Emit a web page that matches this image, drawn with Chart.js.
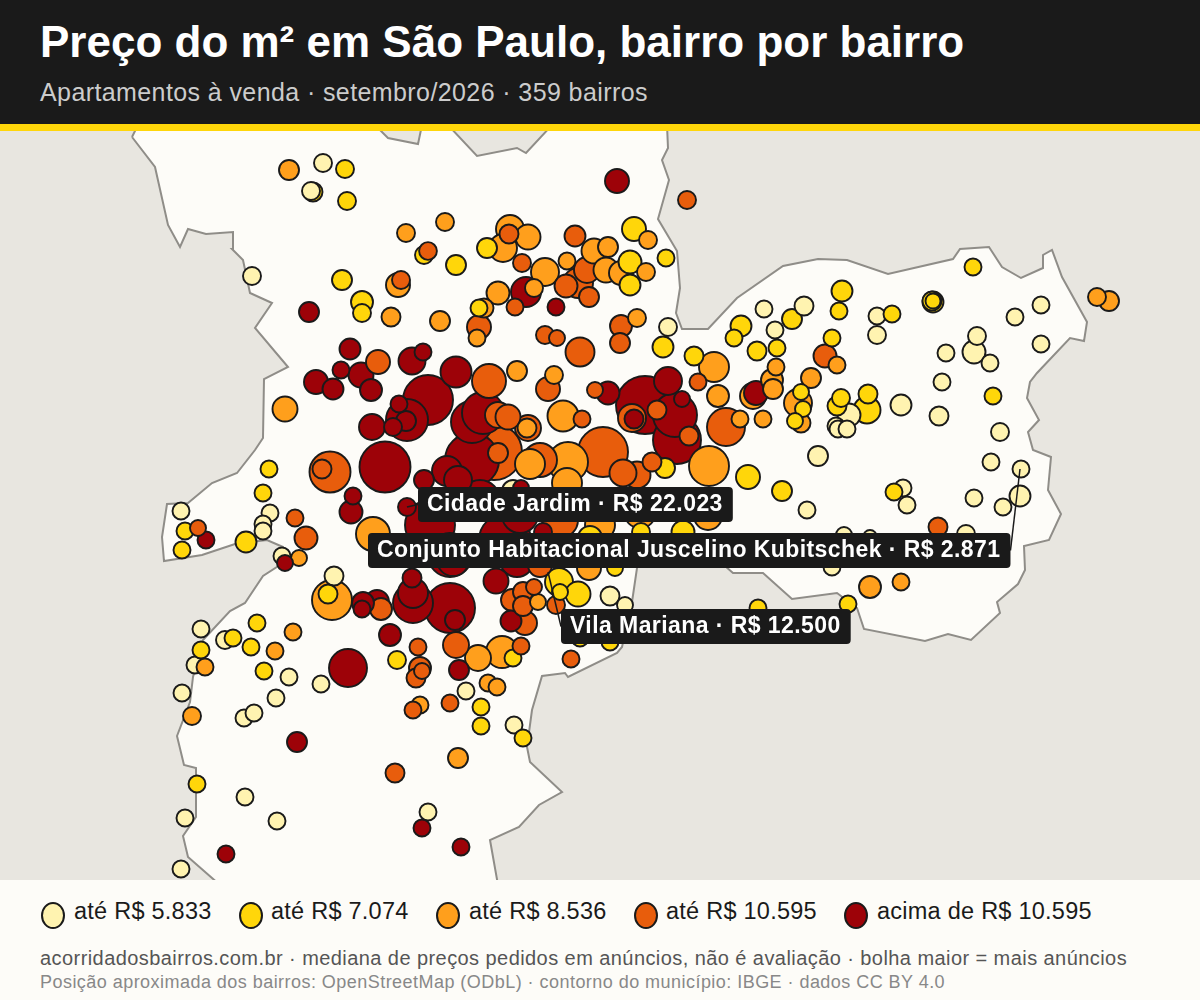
<!DOCTYPE html>
<html lang="pt-BR">
<head>
<meta charset="UTF-8">
<title>Preço do m² em São Paulo</title>
<script src="https://cdn.jsdelivr.net/npm/chart.js@4/dist/chart.umd.min.js"></script>
<style>
    html,body{margin:0;padding:0;background:#fdfcf8;font-family:"Liberation Sans",Arial,sans-serif;}
    #page{position:relative;width:1200px;height:1000px;overflow:hidden;}
    #top{position:absolute;left:0;top:0;width:1200px;height:124px;background:#1a1a1a;border-bottom:7px solid #ffd60a;}
    #title{position:absolute;left:40px;top:17px;font-size:44px;font-weight:bold;color:#fff;white-space:nowrap;}
    #sub{position:absolute;left:40px;top:78px;font-size:25px;letter-spacing:0.4px;color:#cccccc;white-space:nowrap;}
    #board{position:absolute;left:0;top:131px;width:1200px;height:749px;background:#e8e6e0;}
    #legend span{position:absolute;white-space:nowrap;}
    .dot{width:24px;height:27px;border:2px solid #1a1a1a;border-radius:50%;box-sizing:border-box;top:902px;}
    .lab{font-size:23.5px;letter-spacing:0.25px;color:#1a1a1a;top:898px;}
    #note1{position:absolute;left:40px;top:947px;font-size:20px;letter-spacing:0.43px;color:#555;white-space:nowrap;}
    #note2{position:absolute;left:40px;top:972px;font-size:18px;letter-spacing:0.46px;color:#888;white-space:nowrap;}
</style>
</head>
<body>
<div id="page">
    <div id="top">
        <div id="title">Preço do m² em São Paulo, bairro por bairro</div>
        <div id="sub">Apartamentos à venda · setembro/2026 · 359 bairros</div>
    </div>
    <div id="board"><canvas id="chart1" width="1200" height="749"></canvas></div>
    <div id="legend"></div>
    <div id="note1">acorridadosbairros.com.br · mediana de preços pedidos em anúncios, não é avaliação · bolha maior = mais anúncios</div>
    <div id="note2">Posição aproximada dos bairros: OpenStreetMap (ODbL) · contorno do município: IBGE · dados CC BY 4.0</div>
</div>
<script>
// faixas de preco
const faixaLabels = ['até R$ 5.833','até R$ 7.074','até R$ 8.536','até R$ 10.595','acima de R$ 10.595'];
const faixaColors = ['#fff3b0','#ffd60a','#ff9f1c','#e85d0c','#9d0208'];

// contorno do municipio (x, y no mapa)
const contornoX = [132,138,375,388,418,422,448,477,517,526,552,667,668,662,669,658,677,680,676,682,708,737,783,818,847,888,953,960,989,1002,1021,1043,1043,1052,1062,1087,1084,1070,1037,1030,1027,1039,1028,1033,1051,1048,1061,1049,1024,1025,1018,997,1000,971,948,925,864,857,837,792,763,733,725,690,640,637,632,622,617,568,565,542,532,527,530,562,539,519,490,498,220,188,183,196,196,184,177,190,193,203,230,245,263,283,283,267,235,202,164,162,167,188,212,237,255,263,264,288,255,272,250,243,232,233,206,188,180,168,155,132];
const contornoY = [137,125,125,138,144,125,125,156,148,153,125,125,148,160,180,219,251,288,313,329,329,298,266,259,260,274,259,249,247,267,278,268,255,250,277,322,341,338,373,382,398,420,432,450,457,490,514,540,546,570,584,602,613,640,634,641,629,608,593,599,573,573,566,565,560,568,602,647,653,677,673,676,710,747,762,792,805,827,840,885,885,857,836,817,768,765,736,702,677,640,611,603,576,563,547,540,544,555,561,537,504,503,483,473,450,438,379,367,328,303,293,260,249,232,234,229,247,225,167,137];

// bolhas [x, y, raio] de cada faixa
const faixa1 = [[323,163,9],[311,191,9],[252,276,9],[668,327,9],[764,309,8.5],[804,306,9.5],[775,330,8.5],[877,316,8.5],[877,335,9],[1015,317,8.5],[1041,305,8.5],[1041,344,8.5],[977,336,9],[974,352,11.5],[990,363,8.5],[946,353,8.5],[942,382,8.5],[901,405,10.5],[939,416,9.5],[1000,432,9],[849,415,11.5],[836,426,8.5],[838,429,8.5],[847,429,8.5],[818,456,10],[807,510,8.5],[991,462,8.5],[1021,469,8.5],[1020,496,10.5],[974,498,8.5],[1003,507,8.5],[903,488,8.5],[907,505,8.5],[844,535,8],[870,537,7],[966,534,9],[832,567,8.5],[610,596,9.5],[625,605,8],[181,511,8.5],[270,513,8.5],[263,524,8.5],[263,531,8.5],[282,556,8.5],[334,576,9.5],[201,629,8.5],[225,640,9],[195,665,8.5],[182,693,8.5],[289,677,8.5],[321,684,8.5],[276,698,8.5],[244,718,8.5],[254,713,8.5],[245,797,8.5],[185,818,8.5],[277,821,8.5],[181,869,8.5],[428,812,8.5],[514,725,8.5],[466,691,8.5],[513,491,11]];
const faixa2 = [[345,169,9],[313,192,9.5],[347,201,9],[424,255,9],[456,265,10],[342,280,10],[362,302,11],[362,313,9],[487,248,10],[479,308,8.5],[634,229,12],[630,262,11.5],[630,285,10.5],[666,258,8.5],[663,347,10.5],[741,326,10.5],[734,338,8.5],[792,319,10],[842,291,10.5],[839,311,8.5],[832,338,8.5],[757,351,9.5],[777,348,8.5],[694,356,9.5],[973,267,8.5],[892,314,8.5],[933,302,10.5],[932,301,9.5],[933,301,7.5],[993,396,8.5],[867,410,13.5],[868,394,9.5],[837,406,9.5],[841,398,9],[801,392,8],[803,409,8],[795,421,8],[748,477,12],[782,491,10],[665,468,10],[894,492,8.5],[641,532,9],[683,532,11.5],[590,538,12],[559,582,14],[560,592,8],[578,594,12.5],[615,568,8],[580,638,8.5],[610,642,8.5],[758,608,8.5],[848,604,8.5],[513,658,8.5],[397,660,9],[269,469,8.5],[263,493,8.5],[185,531,8.5],[182,550,8.5],[246,542,10.5],[328,594,9.5],[233,638,8.5],[257,623,8.5],[251,647,8.5],[201,650,8.5],[264,671,8.5],[197,784,8.5],[481,707,8.5],[481,726,8.5],[523,738,8.5]];
const faixa3 = [[289,170,10],[406,233,9],[445,222,9],[398,285,12],[391,317,9.5],[440,321,10],[510,229,14],[503,248,14],[528,237,12.5],[484,308,9.5],[545,272,14],[567,261,8.5],[594,251,12.5],[608,247,10],[606,270,12.5],[621,273,12],[646,272,9],[648,240,9],[498,293,11.5],[534,288,9],[477,338,8.5],[637,318,9],[1109,301,10],[1097,297,9],[837,365,8.5],[811,378,10],[776,367,8.5],[772,380,11],[773,389,10],[753,396,13],[714,367,15],[718,396,11],[740,419,8.5],[763,419,8.5],[798,403,14],[801,423,9.5],[709,466,20],[517,371,10],[554,375,9],[568,462,20],[530,464,15],[567,483,15],[563,416,15.5],[527,428,9.5],[285,409,12.5],[373,534,17],[332,600,20],[299,558,8],[293,632,8.5],[275,651,8.5],[205,667,8.5],[192,716,9],[538,602,8],[478,658,13],[502,652,16],[708,516,14],[640,512,16],[589,568,12],[600,525,15],[870,587,11],[901,582,8.5],[458,758,10],[488,683,8.5],[497,687,8.5],[420,705,8.5]];
const faixa4 = [[428,251,8.9],[401,280,9],[509,234,9.5],[522,263,9],[575,236,10.5],[587,270,13],[578,283,15],[566,286,11.5],[589,297,10],[515,307,8.5],[479,327,12],[545,335,9],[557,338,8],[621,326,11],[620,343,10],[580,352,14.5],[687,200,9],[825,356,11.5],[698,382,8.5],[726,427,19],[689,436,9.5],[657,410,9.5],[652,462,9.5],[637,475,13.5],[623,473,13.5],[603,452,25],[540,460,17],[548,389,12],[595,390,8],[632,418,14],[582,419,8.5],[528,428,13],[508,417,12.5],[498,415,13],[494,452,28],[498,453,10],[489,381,17],[330,472,20.5],[322,469,9.5],[295,518,8.5],[306,538,11.5],[198,528,8],[381,609,11],[378,362,12],[512,600,11],[523,592,10],[534,587,8],[556,605,9],[523,606,10],[525,623,12],[456,645,13],[521,646,8.5],[418,647,8.5],[420,668,11],[422,671,8],[416,678,9.5],[571,659,8.5],[450,703,8.5],[413,710,8.5],[395,773,9.5],[938,527,9.5],[540,565,12],[560,520,18]];
const faixa5 = [[617,181,12],[309,312,10],[526,292,15],[556,307,8.5],[350,349,10.5],[341,370,8.5],[316,382,12],[333,389,10.5],[361,375,12.5],[371,390,11],[412,361,13.5],[423,352,8.5],[456,372,15.5],[608,393,11.5],[645,405,29],[668,381,14],[682,399,8],[634,419,9.5],[675,415,22],[677,440,24],[756,393,12],[472,422,21],[483,413,21],[472,460,27],[385,467,25.5],[428,400,25],[407,420,21],[406,421,10],[399,404,8.5],[393,427,9],[372,427,13],[447,471,15],[458,480,14],[424,480,10],[407,507,9],[430,525,25],[505,540,26],[450,555,22],[480,500,20],[520,515,18],[521,488,8],[543,532,9],[453,560,16],[517,560,17],[496,581,12.5],[450,608,25],[455,620,10],[412,578,9.5],[413,593,15],[413,603,20],[377,602,12],[363,603,11],[362,609,8.5],[353,496,8.5],[351,512,11.5],[206,540,8.5],[285,563,8],[511,621,10.5],[390,635,11],[459,670,10],[348,668,19],[297,742,10],[226,854,8.5],[422,828,8.5],[461,847,8.5]];

// bairros em destaque
const destaqueNomes = ['Cidade Jardim','Conjunto Habitacional Juscelino Kubitschek','Vila Mariana'];
const destaqueValores = ['R$ 22.023','R$ 2.871','R$ 12.500'];
const destaqueX = [407,1020,548];
const destaqueY = [507,469,572];
const caixaX = [418,368,561];
const caixaY = [487,533,609];

// legenda
const legendDotX = [41,239,436,634,844];
const legendLabX = [74,271,469,666,877];
const legend = document.getElementById('legend');
faixaLabels.forEach(function(t,i){
    legend.insertAdjacentHTML('beforeend',
        '<span class="dot" style="left:'+legendDotX[i]+'px;background:'+faixaColors[i]+'"></span>'+
        '<span class="lab" style="left:'+legendLabX[i]+'px">'+t+'</span>');
});

// junta tudo e desenha as maiores primeiro
let bolhas = [];
[faixa1,faixa2,faixa3,faixa4,faixa5].forEach(function(lista,i){
    lista.forEach(function(b){ bolhas.push({x:b[0],y:b[1],r:b[2],cor:faixaColors[i]}); });
});
bolhas.sort(function(a,b){ return b.r-a.r; });

// caixas pretas com o nome do bairro
const destaquePlugin = {
    id:'destaque',
    afterDatasetsDraw(chart){
        const ctx = chart.ctx, sx = chart.scales.x, sy = chart.scales.y;
        ctx.save();
        ctx.font = 'bold 23px "Liberation Sans"';
        ctx.letterSpacing = '0.43px';
        destaqueNomes.forEach(function(nome,i){
            const texto = nome+' · '+destaqueValores[i];
            const w = ctx.measureText(texto).width+19, h = 35;
            const bx = sx.getPixelForValue(caixaX[i]), by = sy.getPixelForValue(caixaY[i]);
            const px = sx.getPixelForValue(destaqueX[i]), py = sy.getPixelForValue(destaqueY[i]);
            ctx.strokeStyle = '#1a1a1a';
            ctx.lineWidth = 1.5;
            ctx.beginPath();
            ctx.moveTo(px,py);
            ctx.lineTo(Math.max(bx,Math.min(bx+w,px)),by+h/2);
            ctx.stroke();
            ctx.fillStyle = '#1a1a1a';
            ctx.beginPath();
            ctx.roundRect(bx,by,w,h,4);
            ctx.fill();
            ctx.fillStyle = '#fff';
            ctx.textBaseline = 'middle';
            ctx.fillText(texto,bx+9,by+h/2);
        });
        ctx.restore();
    }
};

new Chart(document.getElementById('chart1'),{
    type:'bubble',
    data:{
        datasets:[{
            type:'bubble',
            label:'bairros',
            data:bolhas,
            backgroundColor:bolhas.map(function(b){return b.cor;}),
            borderColor:'#1a1a1a',
            borderWidth:1.9,
            order:1
        },{
            type:'line',
            label:'contorno',
            data:contornoX.map(function(x,i){return {x:x,y:contornoY[i]};}),
            borderColor:'#8f8d88',
            borderWidth:2,
            backgroundColor:'#fdfcf8',
            fill:'shape',
            pointRadius:0,
            tension:0,
            order:2
        }]
    },
    options:{
        responsive:false,
        animation:false,
        devicePixelRatio:1,
        layout:{padding:0,autoPadding:false},
        plugins:{legend:{display:false},tooltip:{enabled:false}},
        scales:{
            x:{type:'linear',min:0,max:1200,display:false},
            y:{type:'linear',min:131,max:880,reverse:true,display:false}
        }
    },
    plugins:[destaquePlugin]
});
</script>
</body>
</html>
